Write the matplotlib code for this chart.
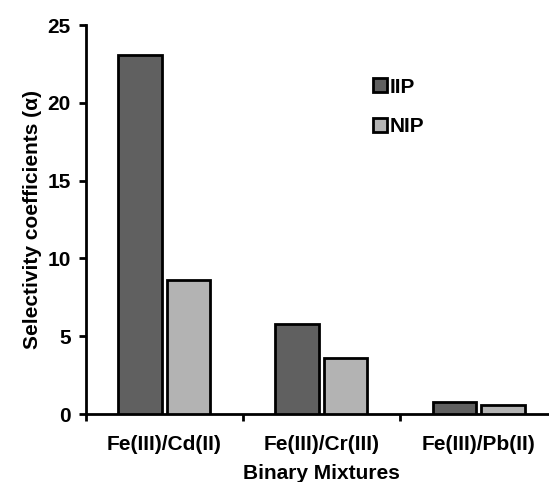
import numpy as np
import matplotlib.pyplot as plt

categories = ['Fe(III)/Cd(II)', 'Fe(III)/Cr(III)', 'Fe(III)/Pb(II)']
iip = [23.1, 5.8, 0.75]
nip = [8.6, 3.6, 0.55]

plt.rcParams['font.family'] = ['Liberation Sans', 'DejaVu Sans']
plt.rcParams['font.weight'] = 'bold'

fig = plt.figure(figsize=(5.49, 4.82), dpi=100)
ax = fig.add_axes([0.1566, 0.141, 0.858, 0.807])

x = np.arange(len(categories))
w = 0.28
ax.bar(x - 0.153, iip, w, color='#606060', edgecolor='black', linewidth=2, label='IIP', zorder=3)
ax.bar(x + 0.153, nip, w, color='#b3b3b3', edgecolor='black', linewidth=2, label='NIP', zorder=3)

ax.set_xlim(-0.5, 2.5)
ax.set_ylim(0, 25)
ax.set_yticks(range(0, 26, 5))
ax.set_xticks(x)
ax.set_xticklabels(categories, fontsize=15, fontweight='bold')
ax.set_xticks(np.arange(-0.5, 3, 1), minor=True)
ax.tick_params(axis='x', which='major', length=0, pad=15)
ax.tick_params(axis='x', which='minor', length=5, width=2, direction='out')
ax.tick_params(axis='y', length=5, width=2, direction='out', labelsize=15, pad=6)
for lab in ax.get_yticklabels():
    lab.set_fontweight('bold')

for s in ['top', 'right']:
    ax.spines[s].set_visible(False)
for s in ['left', 'bottom']:
    ax.spines[s].set_linewidth(2)

ax.set_xlabel('Binary Mixtures', fontsize=15, fontweight='bold', labelpad=7)
ax.set_ylabel('Selectivity coefficients (α)', fontsize=15, fontweight='bold', labelpad=4)

ax.legend(loc='upper left', bbox_to_anchor=(0.57, 0.913), frameon=False, fontsize=15,
          handlelength=0.65, handleheight=0.65, handletextpad=0.15, labelspacing=1.0)

fig.savefig('out.png', dpi=100)
